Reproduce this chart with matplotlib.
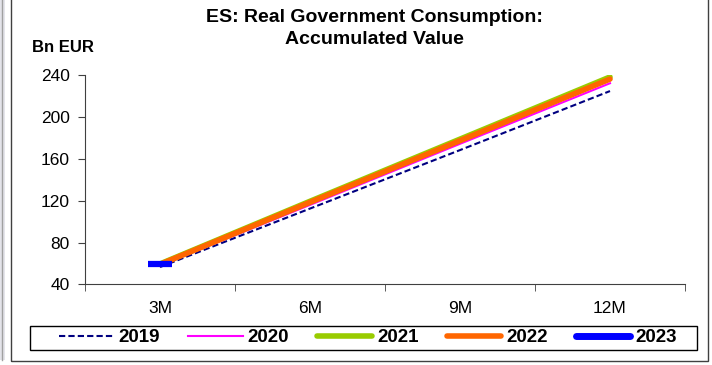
import matplotlib.pyplot as plt
from matplotlib.patches import Rectangle
from matplotlib.lines import Line2D

plt.rcParams['font.family'] = ['Liberation Sans', 'DejaVu Sans']

months = ['3M', '6M', '9M', '12M']
y2019 = [56.5, 112.5, 168.5, 225.0]
y2020 = [58.0, 116.0, 174.5, 232.5]
y2021 = [59.5, 119.5, 179.0, 238.5]
y2022 = [59.0, 118.5, 177.5, 236.5]
y2023 = [59.5]

W, H = 712, 365
fig = plt.figure(figsize=(W / 100, H / 100), dpi=100)

# outer frame and the grey strip on the far left
fig.patches.append(Rectangle((11 / W, 1 - 361 / H), 697 / W, 361 / H + 0.01,
                             transform=fig.transFigure, fill=False,
                             edgecolor='#404040', linewidth=1.0))
fig.patches.append(Rectangle((0, 1 - 360 / H), 5 / W, 360 / H,
                             transform=fig.transFigure, facecolor='#e4e4ea',
                             edgecolor='none'))
fig.lines.append(Line2D([1.5 / W, 1.5 / W], [1 - 360 / H, 1], transform=fig.transFigure,
                        color='#a0a0a0', linewidth=1.0))

ax = fig.add_axes([85 / W, 1 - 284.3 / H, 600 / W, 208.9 / H])
x = range(len(months))
ax.plot(x, y2019, color='#000080', linestyle=(0, (3, 1.5)), linewidth=1.5, label='2019')
ax.plot(x, y2020, color='#ff00ff', linewidth=1.5, label='2020')
ax.plot(x, y2021, color='#99cc00', linewidth=4, solid_capstyle='round', label='2021')
ax.plot(x, y2022, color='#ff6600', linewidth=4, solid_capstyle='round', label='2022')
ax.plot(range(len(y2023)), y2023, color='#0000ff', linewidth=5, marker='_',
        markersize=17, markeredgewidth=4.5, label='2023')

ax.set_xlim(-0.5, 3.5)
ax.set_ylim(40, 240)
ax.set_yticks(range(40, 241, 40))
ax.set_xticks(list(x))
ax.set_xticklabels(months)
ax.set_xticks([-0.5, 0.5, 1.5, 2.5, 3.5], minor=True)
ax.tick_params(axis='x', which='major', length=0, pad=12, labelsize=12.5)
ax.tick_params(axis='x', which='minor', length=5, direction='out', color='#404040')
ax.tick_params(axis='y', length=5, direction='out', pad=6, labelsize=12.5, color='#404040')
ax.spines['top'].set_visible(False)
ax.spines['right'].set_visible(False)
for s in ('left', 'bottom'):
    ax.spines[s].set_color('#404040')

fig.text(374 / W, 1 - 17 / H, 'ES: Real Government Consumption:', ha='center', va='center',
         fontsize=14, fontweight='bold')
fig.text(374 / W, 1 - 40 / H, 'Accumulated Value', ha='center', va='center',
         fontsize=14, fontweight='bold')
fig.text(32 / W, 1 - 48 / H, 'Bn EUR', ha='left', va='center', fontsize=12, fontweight='bold')

# legend box drawn by hand, entries placed inside it
fig.patches.append(Rectangle((30 / W, 1 - 350 / H), 667 / W, 24.5 / H,
                             transform=fig.transFigure, fill=False,
                             edgecolor='black', linewidth=1.0))
handles, labels = ax.get_legend_handles_labels()
handles[-1] = Line2D([], [], color='#0000ff', linewidth=5, solid_capstyle='round')
handles[2] = Line2D([], [], color='#99cc00', linewidth=4, solid_capstyle='round')
handles[3] = Line2D([], [], color='#ff6600', linewidth=4, solid_capstyle='round')
fig.legend(handles, labels, ncol=5, loc='center',
           bbox_to_anchor=(368 / W, 1 - 337.8 / H),
           handlelength=2.9, handletextpad=0.28, columnspacing=1.5,
           frameon=False, borderpad=0.0,
           prop={'weight': 'bold', 'size': 13.5})

fig.savefig('out.png', dpi=100)
